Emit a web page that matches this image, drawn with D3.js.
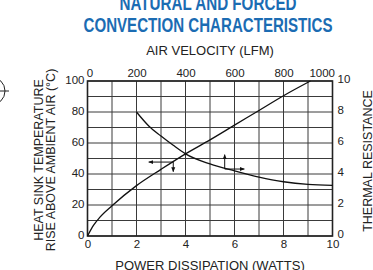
<!DOCTYPE html>
<html>
<head>
<meta charset="utf-8">
<script src="https://cdn.jsdelivr.net/npm/d3@7"></script>
<style>
  html, body { margin: 0; padding: 0; background: #fff; }
  svg { display: block; }
</style>
</head>
<body>
<div id="chart"></div>
<script>
// ---- data ----
const powerTicks = [0, 2, 4, 6, 8, 10];
const velocityTicks = [0, 200, 400, 600, 800, 1000];
const tempTicks = [0, 20, 40, 60, 80, 100];
const resistanceTicks = [0, 2, 4, 6, 8, 10];

// Temperature rise (°C) vs power dissipation (W)
const powerW   = [0, 0.25, 0.5, 1, 2, 3, 4, 5, 6, 7, 8, 9.1];
const tempRise = [0, 7, 12, 19.5, 32.5, 43, 53, 62, 71.5, 81, 90.5, 100];

// Thermal resistance (°C/W) vs air velocity (LFM)
const airLFM     = [200, 250, 300, 350, 400, 500, 600, 700, 800, 900, 1000];
const thermalRes = [8.0, 7.1, 6.45, 5.85, 5.3, 4.65, 4.2, 3.8, 3.5, 3.33, 3.27];

// Direction arrows (power W, temp °C)
const arrowFrom = [[3.5, 47.7], [3.5, 47.7], [5.6, 43.2], [5.6, 43.2]];
const arrowTo   = [[2.5, 47.7], [3.5, 41.5], [5.6, 52.5], [6.4, 43.2]];

const titleLines = ["NATURAL AND FORCED", "CONVECTION CHARACTERISTICS"];

// ---- layout ----
const W = 373, H = 270;
const L = 87.5, R = 332.5, T = 81, B = 236;

const svg = d3.select("#chart").append("svg").attr("width", W).attr("height", H);

const x = d3.scaleLinear().domain([0, 10]).range([L, R]);
const xTop = d3.scaleLinear().domain([0, 1000]).range([L, R]);
const yL = d3.scaleLinear().domain([0, 100]).range([B, T]);
const yR = d3.scaleLinear().domain([0, 10]).range([B, T]);

const tickFont = "'Liberation Sans', Arial, sans-serif";
const labelFont = "'Liberation Sans', Arial, sans-serif";

// grid
const grid = svg.append("g").attr("stroke", "#3a3a3a").attr("stroke-width", 1);
grid.selectAll("line.v").data(d3.range(0, 11)).join("line")
  .attr("x1", d => x(d)).attr("x2", d => x(d)).attr("y1", T).attr("y2", B);
grid.selectAll("line.h").data(d3.range(0, 11)).join("line")
  .attr("class", "h")
  .attr("y1", d => yR(d)).attr("y2", d => yR(d)).attr("x1", L).attr("x2", R);
svg.append("rect").attr("x", L).attr("y", T).attr("width", R - L).attr("height", B - T)
  .attr("fill", "none").attr("stroke", "#222").attr("stroke-width", 1.6);

// axes
function styleAxis(g) {
  g.select(".domain").remove();
  g.selectAll(".tick line").remove();
  g.selectAll("text").attr("font-family", tickFont).attr("font-size", 11.5).attr("fill", "#222");
}
svg.append("g").attr("transform", `translate(0,${B})`)
  .call(d3.axisBottom(x).tickValues(powerTicks).tickSize(0).tickPadding(4).tickFormat(d3.format("d")))
  .call(styleAxis);
const topAx = svg.append("g").attr("transform", `translate(0,${T})`)
  .call(d3.axisTop(xTop).tickValues(velocityTicks).tickSize(0).tickPadding(4).tickFormat(d3.format("d")))
  .call(styleAxis);
topAx.selectAll(".tick").filter(d => d === 1000).select("text").attr("text-anchor", "end").attr("x", 2);
topAx.selectAll(".tick").filter(d => d === 0).select("text").attr("x", 2);
const leftAx = svg.append("g").attr("transform", `translate(${L},0)`)
  .call(d3.axisLeft(yL).tickValues(tempTicks).tickSize(0).tickPadding(3).tickFormat(d3.format("d")))
  .call(styleAxis);
leftAx.selectAll("text").attr("dy", "0.2em");
const rightAx = svg.append("g").attr("transform", `translate(${R},0)`)
  .call(d3.axisRight(yR).tickValues(resistanceTicks).tickSize(0).tickPadding(5).tickFormat(d3.format("d")))
  .call(styleAxis);
rightAx.selectAll("text").attr("dy", "0.15em");

// curves
const line = d3.line().curve(d3.curveMonotoneX);
svg.append("path")
  .attr("d", line(powerW.map((p, i) => [x(p), yL(tempRise[i])])))
  .attr("fill", "none").attr("stroke", "#111").attr("stroke-width", 1.3);
svg.append("path")
  .attr("d", line(airLFM.map((v, i) => [xTop(v), yR(thermalRes[i])])))
  .attr("fill", "none").attr("stroke", "#111").attr("stroke-width", 1.3);

// arrows
svg.append("defs").append("marker")
  .attr("id", "ah").attr("viewBox", "0 0 10 10").attr("refX", 9).attr("refY", 5)
  .attr("markerWidth", 5).attr("markerHeight", 5).attr("orient", "auto")
  .append("path").attr("d", "M0,1 L10,5 L0,9 Z").attr("fill", "#111");
svg.append("g").selectAll("line").data(arrowFrom).join("line")
  .attr("x1", d => x(d[0])).attr("y1", d => yL(d[1]))
  .attr("x2", (d, i) => x(arrowTo[i][0])).attr("y2", (d, i) => yL(arrowTo[i][1]))
  .attr("stroke", "#111").attr("stroke-width", 1).attr("marker-end", "url(#ah)");

// titles
const tBlue = "#1b6cb3";
const titleLens = [177, 249];
const titleBase = [10, 31.5];
titleLines.forEach((t, i) => {
  svg.append("text").text(t)
    .attr("x", (L + R) / 2 - 2 + (i === 0 ? 0 : 0)).attr("y", titleBase[i])
    .attr("text-anchor", "middle")
    .attr("font-family", "'Liberation Sans Narrow', 'Liberation Sans', Arial, sans-serif")
    .attr("font-weight", "bold").attr("font-size", 21).attr("fill", tBlue)
    .attr("textLength", titleLens[i]).attr("lengthAdjust", "spacingAndGlyphs");
});

svg.append("text").text("AIR VELOCITY (LFM)")
  .attr("x", 210).attr("y", 55).attr("text-anchor", "middle")
  .attr("font-family", labelFont).attr("font-size", 13).attr("fill", "#222");
svg.append("text").text("POWER DISSIPATION (WATTS)")
  .attr("x", 210).attr("y", 270).attr("text-anchor", "middle")
  .attr("font-family", labelFont).attr("font-size", 13).attr("fill", "#222");

svg.append("text").text("HEAT SINK TEMPERATURE")
  .attr("transform", "translate(43,160) rotate(-90)").attr("text-anchor", "middle")
  .attr("font-family", labelFont).attr("font-size", 12.5).attr("fill", "#222");
svg.append("text").text("RISE ABOVE AMBIENT AIR (°C)")
  .attr("transform", "translate(55,160) rotate(-90)").attr("text-anchor", "middle")
  .attr("font-family", labelFont).attr("font-size", 12.5).attr("fill", "#222");
svg.append("text").text("THERMAL RESISTANCE")
  .attr("transform", "translate(372,161) rotate(-90)").attr("text-anchor", "middle")
  .attr("font-family", labelFont).attr("font-size", 12.5).attr("fill", "#222");

// registration mark at left edge
svg.append("circle").attr("cx", -9).attr("cy", 91).attr("r", 14)
  .attr("fill", "none").attr("stroke", "#222").attr("stroke-width", 1);
svg.append("line").attr("x1", -9).attr("x2", 9).attr("y1", 91).attr("y2", 91)
  .attr("stroke", "#222").attr("stroke-width", 1);
</script>
</body>
</html>
